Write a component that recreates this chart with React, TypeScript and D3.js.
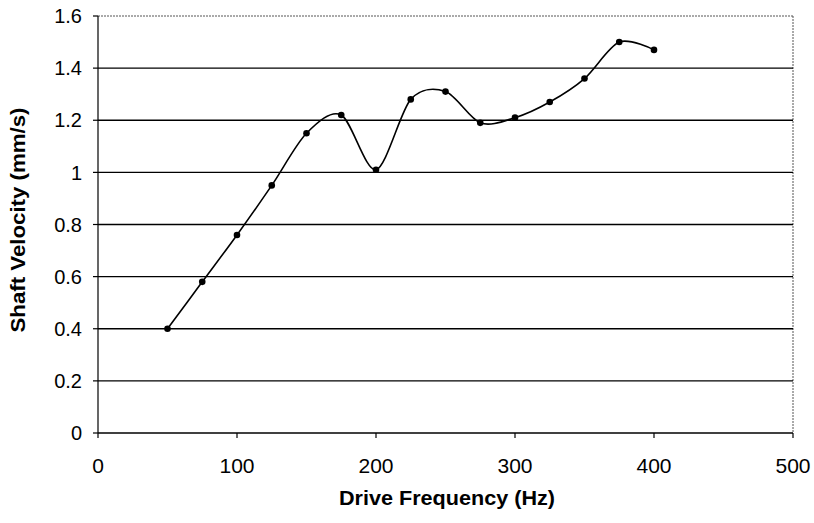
import React from "react";
import * as d3 from "d3";

const frequencies = [50, 75, 100, 125, 150, 175, 200, 225, 250, 275, 300, 325, 350, 375, 400];
const velocities = [0.40, 0.58, 0.76, 0.95, 1.15, 1.22, 1.01, 1.28, 1.31, 1.19, 1.21, 1.27, 1.36, 1.50, 1.47];
const xTicks = [0, 100, 200, 300, 400, 500];
const yTicks = [0, 0.2, 0.4, 0.6, 0.8, 1, 1.2, 1.4, 1.6];
const xTitle = "Drive Frequency (Hz)";
const yTitle = "Shaft Velocity (mm/s)";

export default function App() {
  const W = 814, H = 523;
  const L = 98, R = 793, T = 16, B = 433;
  const x = d3.scaleLinear().domain([0, 500]).range([L, R]);
  const y = d3.scaleLinear().domain([0, 1.6]).range([B, T]);
  const pts = frequencies.map((f, i) => [f, velocities[i]] as [number, number]);
  const line = d3.line<[number, number]>()
    .x(d => x(d[0]))
    .y(d => y(d[1]))
    .curve(d3.curveCardinal.tension(0.1));
  const font = "'Liberation Sans', Arial, sans-serif";
  return (
    <svg width={W} height={H} style={{ position: "absolute", left: 0, top: 0, background: "#fff" }} fontFamily={font}>
      <rect x={0} y={0} width={W} height={H} fill="#fff" />
      {/* plot frame top/right dotted */}
      <line x1={L} x2={R} y1={T} y2={T} stroke="#555" strokeWidth={1} strokeDasharray="2,1" />
      <line x1={R} x2={R} y1={T} y2={B} stroke="#555" strokeWidth={1} strokeDasharray="2,1" />
      {/* gridlines */}
      {yTicks.filter(t => t > 0 && t < 1.6).map(t => (
        <line key={t} x1={L} x2={R} y1={y(t)} y2={y(t)} stroke="#000" strokeWidth={1.4} />
      ))}
      {/* axes */}
      <line x1={L} x2={L} y1={T} y2={B} stroke="#000" strokeWidth={1.2} />
      <line x1={L} x2={R} y1={B} y2={B} stroke="#000" strokeWidth={1.4} />
      {yTicks.map(t => (
        <g key={t}>
          <line x1={L - 5} x2={L} y1={y(t)} y2={y(t)} stroke="#000" strokeWidth={1.2} />
          <text x={82} y={y(t)} dy="0.36em" textAnchor="end" fontSize={20} fill="#000">{String(t)}</text>
        </g>
      ))}
      {xTicks.map(t => (
        <g key={t}>
          <line x1={x(t)} x2={x(t)} y1={B} y2={B + 5} stroke="#000" strokeWidth={1.2} />
          <text x={x(t)} y={473} textAnchor="middle" fontSize={21} fill="#000">{String(t)}</text>
        </g>
      ))}
      <path d={line(pts) || ""} fill="none" stroke="#000" strokeWidth={1.6} />
      {pts.map((p, i) => (
        <circle key={i} cx={x(p[0])} cy={y(p[1])} r={3.3} fill="#000" />
      ))}
      <text x={447} y={505} textAnchor="middle" fontSize={21} fontWeight="bold" fill="#000"
        textLength={216} lengthAdjust="spacingAndGlyphs">{xTitle}</text>
      <text transform={`translate(25,${220}) rotate(-90)`} textAnchor="middle" fontSize={21} fontWeight="bold" fill="#000"
        textLength={225} lengthAdjust="spacingAndGlyphs">{yTitle}</text>
    </svg>
  );
}
